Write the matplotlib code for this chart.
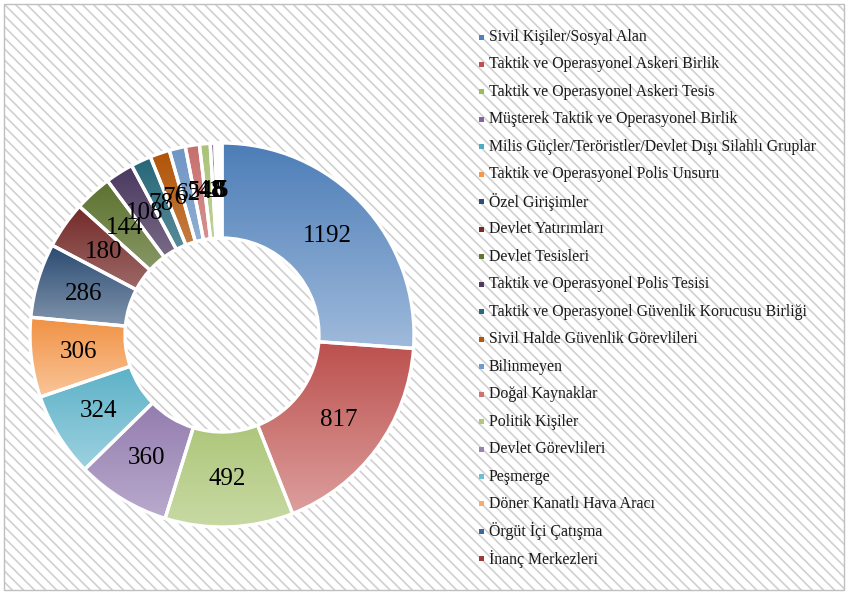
import numpy as np
import matplotlib
matplotlib.use("Agg")
import matplotlib.pyplot as plt
from matplotlib.patches import Rectangle, Wedge
from matplotlib.colors import to_rgb

plt.rcParams["hatch.color"] = "#e6e6e6"
plt.rcParams["hatch.linewidth"] = 1.2

categories = [
    "Sivil Kişiler/Sosyal Alan",
    "Taktik ve Operasyonel Askeri Birlik",
    "Taktik ve Operasyonel Askeri Tesis",
    "Müşterek Taktik ve Operasyonel Birlik",
    "Milis Güçler/Teröristler/Devlet Dışı Silahlı Gruplar",
    "Taktik ve Operasyonel Polis Unsuru",
    "Özel Girişimler",
    "Devlet Yatırımları",
    "Devlet Tesisleri",
    "Taktik ve Operasyonel Polis Tesisi",
    "Taktik ve Operasyonel Güvenlik Korucusu Birliği",
    "Sivil Halde Güvenlik Görevlileri",
    "Bilinmeyen",
    "Doğal Kaynaklar",
    "Politik Kişiler",
    "Devlet Görevlileri",
    "Peşmerge",
    "Döner Kanatlı Hava Aracı",
    "Örgüt İçi Çatışma",
    "İnanç Merkezleri",
]
values = [1192, 817, 492, 360, 324, 306, 286, 180, 144, 108,
          78, 76, 62, 54, 41, 18, 8, 8, 6, 5]
colors = ["#4F81BD", "#C0504D", "#9BBB59", "#8064A2", "#4BACC6", "#F79646",
          "#2C4D75", "#772C2A", "#5F7530", "#4D3B62", "#276A7C", "#B65708",
          "#729ACA", "#CD7371", "#AFC97A", "#9983B5", "#6FBDD1", "#F9AB6B",
          "#3A679C", "#9E3A38"]

W, H = 849, 595
fig = plt.figure(figsize=(W / 100, H / 100), dpi=100)

# background with light diagonal stripes and grey frame
bg = fig.add_axes([0, 0, 1, 1])
bg.set_xlim(0, W)
bg.set_ylim(H, 0)
bg.axis("off")
bg.add_patch(Rectangle((4, 4), W - 9, H - 9, facecolor="white",
                       edgecolor="#d0d0d0", hatch="\\\\\\", lw=0))
bg.add_patch(Rectangle((4, 4), W - 9, H - 9, facecolor="none",
                       edgecolor="#bfbfbf", lw=1.0))

# donut axes: center (222, 335) px, 400 px square
cx, cy, side = 222, 335, 400
ax = fig.add_axes([(cx - side / 2) / W, (H - cy - side / 2) / H, side / W, side / H])
ax.set_xlim(-1, 1)
ax.set_ylim(-1, 1)
ax.set_aspect("equal")
ax.axis("off")

R = 0.96
ring = 0.475
wedges, _ = ax.pie(values, radius=R, startangle=90, counterclock=False,
                   colors=colors, wedgeprops=dict(width=ring, linewidth=0))


def shade(c, f):
    r, g, b = to_rgb(c)
    if f < 0:
        return (r * (1 + f), g * (1 + f), b * (1 + f))
    return (r + (1 - r) * f, g + (1 - g) * f, b + (1 - b) * f)


# vertical gradient inside each slice: darker top, lighter bottom
for w, c in zip(wedges, colors):
    w.set_facecolor("none")
    verts = w.get_path().vertices
    x0, x1 = verts[:, 0].min(), verts[:, 0].max()
    y0, y1 = verts[:, 1].min(), verts[:, 1].max()
    top = np.array(shade(c, -0.03))
    bot = np.array(shade(c, 0.45))
    t = np.linspace(0, 1, 64)[:, None]
    grad = (top * (1 - t) + bot * t)[:, None, :]
    im = ax.imshow(grad, extent=(x0, x1, y0, y1), origin="upper",
                   aspect="auto", zorder=1, interpolation="bilinear")
    im.set_clip_path(w)

# white separators
theta = 90.0
total = float(sum(values))
for v in values:
    t2 = theta - v / total * 360
    ax.add_patch(Wedge((0, 0), R, t2, theta, width=ring, facecolor="none",
                       edgecolor="white", lw=2.4, zorder=3))
    theta = t2
ax.set_xlim(-1, 1)
ax.set_ylim(-1, 1)

# value labels
theta = 90.0
rl = R - ring / 2
for v in values:
    mid = np.deg2rad(theta - v / total * 180)
    ax.text(rl * np.cos(mid), rl * np.sin(mid), str(v), ha="center", va="center",
            fontsize=18, family="Liberation Serif", color="black", zorder=4)
    theta -= v / total * 360

# legend
for i, (lab, c) in enumerate(zip(categories, colors)):
    y = 37 + i * 27.47
    bg.add_patch(Rectangle((479, y - 2.5), 5, 5, facecolor=c, lw=0))
    bg.text(489, y, lab, ha="left", va="center", fontsize=11.4,
            family="Liberation Serif", color="#1a1a1a")

fig.savefig("out.png", dpi=100)
